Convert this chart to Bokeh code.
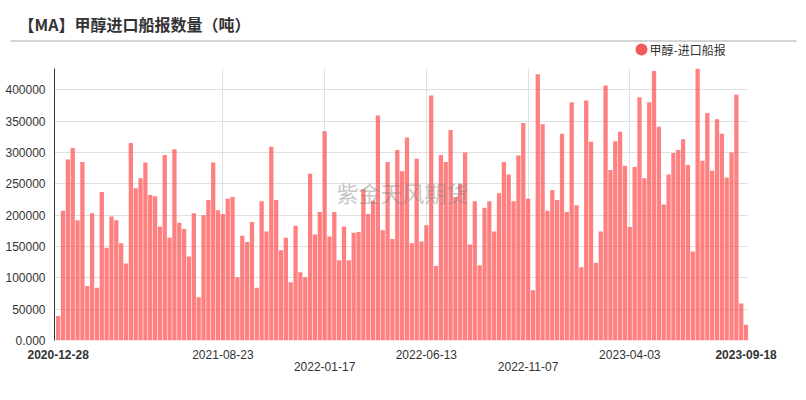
import pandas as pd
from bokeh.plotting import figure
from bokeh.models import Range1d, FixedTicker, Label, ColumnDataSource
from bokeh.core.properties import value
from bokeh.embed import file_html
from bokeh.resources import INLINE

# ---------------- data ----------------
title_text = "【MA】甲醇进口船报数量（吨）"
series_name = "甲醇-进口船报"
watermark_text = "紫金天风期货"
start_date = "2020-12-28"   # weekly categories

values = [
    39000, 207000, 289000, 307000, 192000, 285000, 87000, 203000, 84000, 237000,
    148000, 198000, 192000, 155000, 123000, 315000, 243000, 259000, 284000, 232000,
    230000, 182000, 296000, 164000, 305000, 188000, 178000, 134000, 203000,
    69000, 200000, 224000, 284000, 208000, 202000, 226000, 229000, 101000, 167000,
    157000, 189000, 84000, 222000, 174000, 309000, 224000, 144000, 164000, 93000,
    183000, 109000, 101000, 266000, 169000, 205000, 334000, 166000, 205000,
    128000, 182000, 128000, 172000, 173000, 241000, 202000, 223000, 359000, 176000,
    285000, 162000, 304000, 270000, 324000, 155000, 290000, 158000, 184000, 391000,
    119000, 296000, 285000, 336000, 229000, 250000, 300000, 153000,
    222000, 120000, 212000, 222000, 174000, 235000, 285000, 265000, 222000, 295000,
    347000, 226000, 80000, 425000, 345000, 207000, 240000, 224000, 330000, 205000,
    380000, 216000, 117000, 383000, 317000, 124000, 174000, 407000,
    272000, 318000, 333000, 279000, 181000, 277000, 388000, 259000, 380000, 430000,
    341000, 217000, 265000, 299000, 304000, 321000, 280000, 142000, 434000, 287000,
    363000, 271000, 353000, 330000, 260000, 300000, 392000, 59000, 25000,
]

x_tick_labels = ["2020-12-28", "2021-08-23", "2022-01-17", "2022-06-13",
                 "2022-11-07", "2023-04-03", "2023-09-18"]
y_ticks = [0, 50000, 100000, 150000, 200000, 250000, 300000, 350000, 400000]
y_tick_labels = ["0.000", "50000", "100000", "150000", "200000", "250000",
                 "300000", "350000", "400000"]

dates = [d.strftime("%Y-%m-%d")
         for d in pd.date_range(start_date, periods=len(values), freq="7D")]

TEXT = "#333333"
GRID = "#e0e0e0"
SERIES_COLOR = "#ff5555"
LEGEND_DOT = "#f25b5b"
W = 806
HDR_H, MAIN_H, FTR_H = 58, 289, 53
LEFT, RIGHT, TOP, BOTTOM = 54, 58, 10, 7   # main figure borders


def blank(h, xr, yr):
    return figure(width=W, height=h, x_range=xr, y_range=yr,
                  x_axis_type=None, y_axis_type=None, toolbar_location=None,
                  output_backend="svg", min_border=0, outline_line_color=None)


# ---------------- header: title, rule, legend ----------------
hdr = blank(HDR_H, Range1d(0, W), Range1d(0, HDR_H))
hdr.segment(x0=[10], y0=[HDR_H - 40.5], x1=[796], y1=[HDR_H - 40.5],
            line_color="#aaaaaa", line_width=1)
hdr.add_layout(Label(x=18, y=HDR_H - 23.5, text=title_text, text_align="left",
                     text_baseline="middle", text_font="Noto Sans CJK SC",
                     text_font_style="bold", text_font_size="16px", text_color=TEXT))
# legend: swatch + label
LEG_X, LEG_Y = 641, HDR_H - 49
hdr.scatter(x=[LEG_X], y=[LEG_Y], marker="circle", size=12,
            fill_color=LEGEND_DOT, line_color=None)
hdr.add_layout(Label(x=LEG_X + 8, y=LEG_Y, text=series_name, text_align="left",
                     text_baseline="middle", text_font="Noto Sans CJK SC",
                     text_font_size="12px", text_color=TEXT))

# ---------------- main chart ----------------
n = len(values)
x_start, x_end = -0.76, n - 0.5
p = figure(width=W, height=MAIN_H,
           x_range=Range1d(x_start, x_end), y_range=Range1d(0, max(values)),
           toolbar_location=None, output_backend="svg",
           min_border_left=LEFT, min_border_right=RIGHT, min_border_top=TOP,
           min_border_bottom=BOTTOM, outline_line_color=None)

src = ColumnDataSource(dict(x=list(range(n)), top=values, date=dates))
p.vbar(x="x", top="top", width=0.88, source=src,
       fill_color=SERIES_COLOR, fill_alpha=0.75, line_color=None)

tick_x = [dates.index(t) for t in x_tick_labels]
p.xgrid.ticker = FixedTicker(ticks=tick_x[1:-1])
p.xgrid.grid_line_color = GRID
p.ygrid.ticker = FixedTicker(ticks=y_ticks)
p.ygrid.grid_line_color = GRID

p.xaxis.visible = False
ya = p.yaxis[0]
ya.ticker = FixedTicker(ticks=y_ticks)
ya.major_label_overrides = dict(zip(y_ticks, y_tick_labels))
ya.axis_line_color = TEXT
ya.major_tick_line_color = None
ya.minor_tick_line_color = None
ya.major_label_standoff = 3
ya.major_label_text_font = "Liberation Sans"
ya.major_label_text_font_size = "12px"
ya.major_label_text_color = TEXT

frame_w = W - LEFT - RIGHT
frame_h = MAIN_H - TOP - BOTTOM
p.add_layout(Label(x=402 - LEFT, y=frame_h - (191.5 - HDR_H - TOP), x_units="screen",
                   y_units="screen", text=watermark_text, text_align="center",
                   text_baseline="middle", text_font="Noto Sans CJK SC",
                   text_font_size="22px", text_color="#808080", text_alpha=0.45))

# ---------------- footer: date tick labels (same x scale as main) ----------------
s = frame_w / (x_end - x_start)
ftr = blank(FTR_H, Range1d(x_start - LEFT / s, x_end + RIGHT / s), Range1d(0, FTR_H))
last = len(x_tick_labels) - 1
norm = dict(x=[], y=[], text=[])
bold = dict(x=[], y=[], text=[])
for i, (tx, lab) in enumerate(zip(tick_x, x_tick_labels)):
    row2 = (0 < i < last) and (i % 2 == 0)
    yy = FTR_H - (19 if row2 else 7)
    d = bold if i in (0, last) else norm
    d["x"].append(tx); d["y"].append(yy); d["text"].append(lab)
for d, style in ((norm, "normal"), (bold, "bold")):
    ftr.text(x="x", y="y", text="text", source=ColumnDataSource(d),
             text_align="center", text_baseline="middle",
             text_font=value("Liberation Sans"), text_font_size="12px",
             text_color=TEXT, text_font_style=style)

open("out.html", "w").write(file_html([hdr, p, ftr], INLINE))
